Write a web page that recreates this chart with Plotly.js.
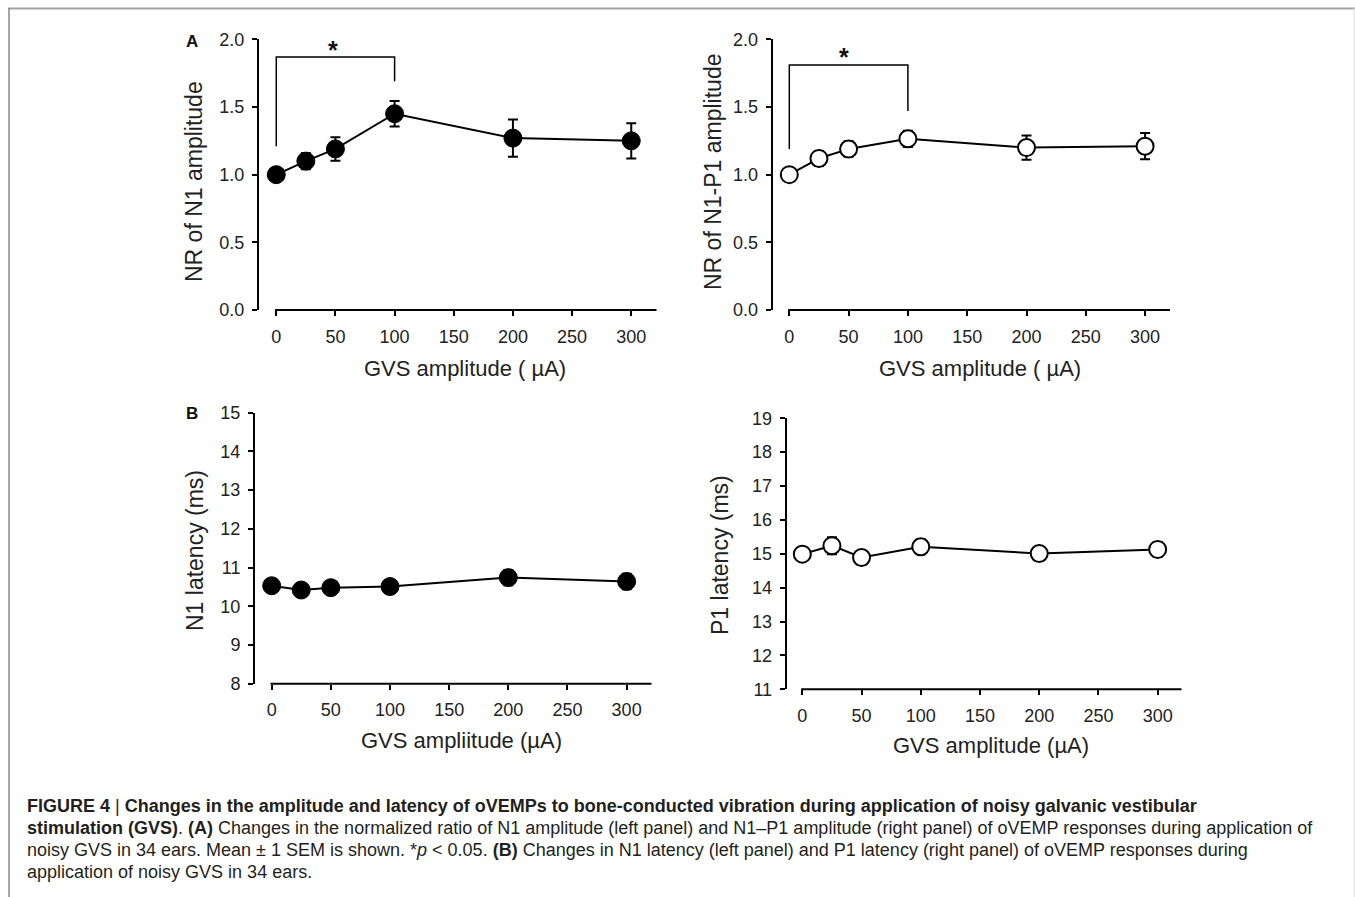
<!DOCTYPE html>
<html><head><meta charset="utf-8">
<script src="https://cdn.plot.ly/plotly-3.0.1.min.js"></script>
<style>html,body{margin:0;padding:0;background:#fff;overflow:hidden;} #chart{width:1355px;height:897px;}</style>
</head><body><div id="chart"></div>
<script>
// ---- data ----
const gvsAmplitude = [0, 25, 50, 100, 200, 300];
const xTickVals = [0, 50, 100, 150, 200, 250, 300];

const n1AmpRatio    = [1.00, 1.10, 1.19, 1.45, 1.27, 1.25];
const n1AmpSem      = [0.00, 0.06, 0.087, 0.095, 0.137, 0.13];
const n1p1AmpRatio  = [1.00, 1.12, 1.19, 1.265, 1.20, 1.21];
const n1p1AmpSem    = [0.00, 0.055, 0.057, 0.06, 0.09, 0.097];
const n1Latency     = [10.53, 10.42, 10.48, 10.51, 10.74, 10.64];
const n1LatencySem  = [0.10, 0.10, 0.10, 0.10, 0.20, 0.20];
const p1Latency     = [14.99, 15.24, 14.89, 15.21, 15.01, 15.13];
const p1LatencySem  = [0.20, 0.25, 0.20, 0.22, 0.20, 0.22];

// significance brackets: [xStart, xEnd], [leftBottom, top, rightBottom]
const sigX = [0, 100];
const sigN1 = [1.21, 1.87, 1.69];
const sigN1P1 = [1.19, 1.81, 1.47];

const xTitleTop = 'GVS amplitude ( µA)';
const xTitleBL = 'GVS ampliitude (µA)';
const xTitleBR = 'GVS amplitude (µA)';
const yTitles = ['NR of N1 amplitude', 'NR of N1-P1 amplitude', 'N1 latency (ms)', 'P1 latency (ms)'];

const captionLines = [
  '<b>FIGURE 4</b> | <b>Changes in the amplitude and latency of oVEMPs to bone-conducted vibration during application of noisy galvanic vestibular</b>',
  '<b>stimulation (GVS)</b>. <b>(A)</b> Changes in the normalized ratio of N1 amplitude (left panel) and N1–P1 amplitude (right panel) of oVEMP responses during application of',
  'noisy GVS in 34 ears. Mean ± 1 SEM is shown. *<i>p</i> &lt; 0.05. <b>(B)</b> Changes in N1 latency (left panel) and P1 latency (right panel) of oVEMP responses during',
  'application of noisy GVS in 34 ears.'
];

// ---- layout helpers ----
const W = 1355, H = 897;
const px = v => v / W;
const py = v => 1 - v / H;
const FONT = 'Liberation Sans, Arial, Helvetica, sans-serif';

function xAx(d0, d1, r0, r1, anchor) {
  return {domain: [px(d0), px(d1)], range: [r0, r1], anchor: anchor,
    showline: false, zeroline: false, showgrid: false, fixedrange: true,
    ticks: 'outside', ticklen: 5, tickwidth: 2, tickcolor: '#000',
    tickvals: xTickVals, ticklabelstandoff: 5,
    tickfont: {family: FONT, size: 18, color: '#222'}};
}
function yAx(d0, d1, r0, r1, dtick, fmt, anchor) {
  return {domain: [py(d1), py(d0)], range: [r0, r1], anchor: anchor,
    showline: true, linewidth: 2, linecolor: '#000',
    zeroline: false, showgrid: false, fixedrange: true,
    ticks: 'outside', ticklen: 5, tickwidth: 2, tickcolor: '#000',
    dtick: dtick, tick0: r0, tickformat: fmt, ticklabelstandoff: 4,
    tickfont: {family: FONT, size: 18, color: '#222'}};
}
function trace(y, sem, filled, xa, ya) {
  return {x: gvsAmplitude, y: y, xaxis: xa, yaxis: ya, type: 'scatter',
    mode: 'lines+markers', cliponaxis: false, showlegend: false,
    line: {color: '#000', width: 2},
    marker: filled ? {size: 18, color: '#000', line: {color: '#000', width: 1}}
                   : {size: 17, color: '#fff', line: {color: '#000', width: 2}},
    error_y: {type: 'data', array: sem, visible: true, color: '#000', thickness: 2, width: 5}};
}

const data = [
  trace(n1AmpRatio, n1AmpSem, true, 'x', 'y'),
  trace(n1p1AmpRatio, n1p1AmpSem, false, 'x2', 'y2'),
  trace(n1Latency, n1LatencySem, true, 'x3', 'y3'),
  trace(p1Latency, p1LatencySem, false, 'x4', 'y4')
];

const xr = [[-14.6, 321.5], [-14.0, 321], [-14.1, 321.2], [-13.2, 320.3]];

function axisLine(i) {
  const s = i === 0 ? '' : String(i + 1);
  return {type: 'line', xref: 'x' + s, yref: 'y' + s + ' domain', x0: -1, x1: xr[i][1], y0: 0, y1: 0,
    line: {color: '#000', width: 2}};
}
function bracket(s, b) {
  return {type: 'path', xref: 'x' + s, yref: 'y' + s,
    path: `M ${sigX[0]},${b[0]} L ${sigX[0]},${b[1]} L ${sigX[1]},${b[1]} L ${sigX[1]},${b[2]}`,
    line: {color: '#000', width: 1.5}};
}

const shapes = [
  axisLine(0), axisLine(1), axisLine(2), axisLine(3),
  bracket('', sigN1), bracket('2', sigN1P1),
  // frame
  {type: 'line', xref: 'paper', yref: 'paper', x0: px(8), x1: 1, y0: py(8.5), y1: py(8.5), line: {color: '#a3a3a3', width: 2}},
  {type: 'line', xref: 'paper', yref: 'paper', x0: px(9), x1: px(9), y0: py(8), y1: 0, line: {color: '#8a8a8a', width: 1.5}},
  {type: 'line', xref: 'paper', yref: 'paper', x0: px(1354), x1: px(1354), y0: py(8), y1: 0, line: {color: '#dddddd', width: 1}}
];

function ann(text, x, y, size, opts) {
  return Object.assign({text: text, xref: 'paper', yref: 'paper', x: px(x), y: py(y),
    xanchor: 'center', yanchor: 'middle', showarrow: false,
    font: {family: FONT, size: size, color: '#222'}}, opts || {});
}

const annotations = [
  ann(xTitleTop, 465, 368, 22),
  ann(xTitleTop, 980, 368, 22),
  ann(xTitleBL, 461, 740, 22),
  ann(xTitleBR, 991, 745, 22),
  ann(yTitles[0], 194, 182, 23, {textangle: -90}),
  ann(yTitles[1], 713, 172, 23, {textangle: -90}),
  ann(yTitles[2], 195, 551, 23, {textangle: -90}),
  ann(yTitles[3], 720, 555, 23, {textangle: -90}),
  ann('<b>A</b>', 192, 41, 17, {font: {family: FONT, size: 17, color: '#111'}}),
  ann('<b>B</b>', 192, 413, 17, {font: {family: FONT, size: 17, color: '#111'}}),
  {text: '<b>*</b>', xref: 'x', yref: 'y', x: 48, y: 1.92, showarrow: false, xanchor: 'center', yanchor: 'middle',
    font: {family: FONT, size: 25, color: '#111'}},
  {text: '<b>*</b>', xref: 'x2', yref: 'y2', x: 46, y: 1.87, showarrow: false, xanchor: 'center', yanchor: 'middle',
    font: {family: FONT, size: 25, color: '#111'}}
];
const capY = [806, 828, 850, 872];
captionLines.forEach((t, i) => annotations.push(
  ann(t, 25, capY[i], 18, {xanchor: 'left', align: 'left', font: {family: FONT, size: 18, color: '#231f20'}})));

const layout = {
  width: W, height: H, margin: {l: 0, r: 0, t: 0, b: 0},
  paper_bgcolor: '#fff', plot_bgcolor: 'rgba(0,0,0,0)', showlegend: false,
  xaxis:  xAx(259, 656.7, xr[0][0], xr[0][1], 'y'),
  yaxis:  yAx(39.3, 310, 0, 2.0, 0.5, '.1f', 'x'),
  xaxis2: xAx(772.7, 1170, xr[1][0], xr[1][1], 'y2'),
  yaxis2: yAx(39.3, 310, 0, 2.0, 0.5, '.1f', 'x2'),
  xaxis3: xAx(255, 651.7, xr[2][0], xr[2][1], 'y3'),
  yaxis3: yAx(412.7, 683.7, 8, 15, 1, 'd', 'x3'),
  xaxis4: xAx(786.7, 1181.7, xr[3][0], xr[3][1], 'y4'),
  yaxis4: yAx(418.3, 689.3, 11, 19, 1, 'd', 'x4'),
  shapes: shapes, annotations: annotations
};

Plotly.newPlot('chart', data, layout, {displayModeBar: false, staticPlot: true});
</script></body></html>
